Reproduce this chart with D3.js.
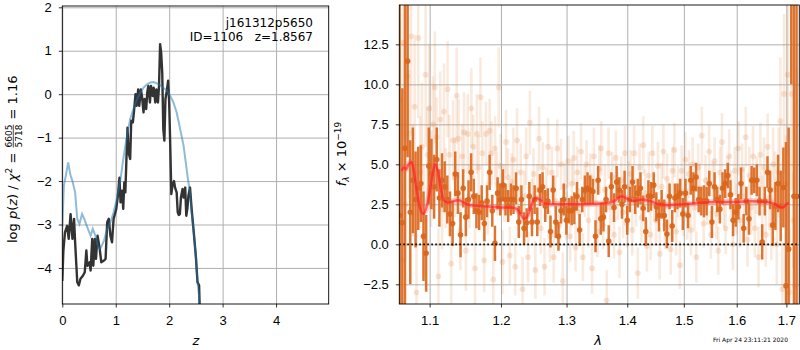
<!DOCTYPE html>
<html>
<head>
<meta charset="utf-8">
<script src="https://d3js.org/d3.v7.min.js"></script>
<style>
  body { margin: 0; background: #fff; }
  svg { font-family: "DejaVu Sans", sans-serif; }
  .tick text { font-size: 13px; fill: #000; }
  .tick line { stroke: #000; stroke-width: 0.8; }
  .domain { display: none; }
  .grid .tick line { stroke: #b0b0b0; stroke-width: 1; }
  .grid .tick text { display: none; }
</style>
</head>
<body>
<svg id="chart" width="800" height="350"></svg>
<script>
// ---- left panel: redshift probability ----
const pzZ = [0, 0.02, 0.05, 0.09, 0.12, 0.155, 0.19, 0.22, 0.24, 0.26, 0.28, 0.31, 0.34, 0.385, 0.42, 0.45, 0.47, 0.51, 0.53, 0.56,
  0.58, 0.61, 0.63, 0.66, 0.70, 0.73, 0.78, 0.81, 0.84, 0.87, 0.90, 0.93, 0.96, 1.01, 1.04, 1.07, 1.09, 1.12, 1.14, 1.16,
  1.18, 1.20, 1.22, 1.24, 1.27, 1.29, 1.32, 1.34, 1.37, 1.39, 1.42, 1.44, 1.47, 1.49, 1.52, 1.54, 1.57, 1.59, 1.61, 1.64,
  1.66, 1.69, 1.71, 1.74, 1.76, 1.79, 1.81, 1.83, 1.85, 1.87, 1.89, 1.91, 1.93, 1.94, 1.96, 1.98, 2.00, 2.02, 2.04, 2.06,
  2.09, 2.11, 2.14, 2.16, 2.18, 2.20, 2.22, 2.25, 2.27, 2.30, 2.32, 2.34, 2.36, 2.39, 2.42, 2.46, 2.50, 2.53, 2.56, 2.57, 2.60];
const pzLog = [-4.3, -3.6, -3.18, -3.03, -3.33, -2.76, -3.33, -2.87, -3.41, -3.87, -4.33, -4.4, -4.25, -4.18, -4.1, -3.6, -3.95, -3.87, -4.06, -3.33,
  -3.95, -3.33, -3.79, -3.26, -3.56, -3.87, -3.83, -3.79, -2.95, -2.87, -3.26, -3.41, -2.87, -2.64, -2.34, -1.92, -2.49, -2.22, -2.64, -2.03,
  -2.26, -1.49, -0.77, -1.34, -1.49, -0.61, -0.65, -0.42, 0.0, -0.27, 0.11, -0.27, 0.11, -0.04, -0.42, -0.11, -0.34, 0.04, 0.19, -0.19,
  0.19, -0.04, 0.15, -0.19, 0.11, -0.19, 0.19, 1.15, 0.96, 0.5, -0.8, -1.07, -0.11, -0.04, 0.11, 0.31, -0.19, -1.19, -2.3, -2.11,
  -2.0, -2.15, -2.26, -2.72, -2.78, -2.76, -2.38, -2.18, -2.38, -2.15, -2.8, -2.64, -2.34, -2.15, -2.64, -3.18, -3.75, -4.33, -4.4, -4.9, -5.5];

const priorZ = [0, 0.03, 0.07, 0.11, 0.15, 0.19, 0.24, 0.28, 0.32, 0.37, 0.41, 0.47, 0.53, 0.57, 0.62, 0.67, 0.71, 0.78, 0.84, 0.90,
  0.96, 1.02, 1.09, 1.15, 1.21, 1.27, 1.34, 1.40, 1.46, 1.52, 1.58, 1.65, 1.71, 1.77, 1.83, 1.89, 1.96, 2.02, 2.08, 2.14,
  2.20, 2.27, 2.31, 2.35, 2.39, 2.42, 2.46, 2.50, 2.53, 2.56, 2.59];
const priorLog = [-3.05, -2.1, -1.85, -1.57, -1.85, -2.0, -2.26, -2.87, -2.99, -2.76, -2.87, -3.07, -3.26, -3.10, -3.26, -3.52, -3.56, -3.37, -3.10, -2.95,
  -2.72, -2.41, -1.95, -1.42, -0.96, -0.57, -0.31, -0.11, 0.04, 0.15, 0.22, 0.27, 0.28, 0.25, 0.21, 0.15, 0.08, -0.04, -0.19, -0.42,
  -0.77, -1.19, -1.57, -1.95, -2.26, -2.72, -3.18, -3.75, -4.33, -4.65, -5.2];

const zTicks = [0, 1, 2, 3, 4];
const pTicks = [-4, -3, -2, -1, 0, 1, 2];

// ---- right panel: spectrum ----
const lamStart = 1.0605, lamEnd = 1.7213;   // wavelength grid end points (micron)
const specFlux = [
  1.8, 1.35, 6.0, 11.45, 2.0, 4.0, 2.8, 3.5, 3.8, 0.5, -0.56, 4.9, 4.4, 3.6, 5.3, 2.9, 4.0, 3.6, 2.8, 1.9,
  1.3, 4.4, 3.2, 0.6, 3.5, 1.7, 2.8, 4.5, 3.0, 2.1, 2.0, 2.6, 1.3, 2.7, 4.5, 2.1, 0.06, 3.2, 2.8, 3.7,
  2.8, 2.4, 2.8, 2.8, 3.5, 1.4, 2.8, 1.0, 1.35, 3.0, 1.4, 2.8,
  1.4, 3.4, 3.6, 2.4, 2.7, 0.8, 3.4, 1.4, 0.5, 2.1, 2.8, 1.5, 2.1, 2.1, 2.25, 3.0, 0.9, 2.8, 3.4, 3.5,
  3.4, 3.3, 0.5, 4.0, 1.6, 1.7, 2.8, 0.2, 3.6, 2.3, 3.9, 3.4, 2.5, 3.6, 1.5, 2.8, 3.9, 2.8, 3.2, 3.5,
  2.25, 0.8, 3.0, 3.0, 3.7, 2.35, 1.8,
  2.5, 1.8, 0.65, 3.0, 1.15, 2.9, 3.0, 3.2, 1.9, 3.2, 1.8, 4.0, 3.5, 4.2, 2.8, 2.7, 2.7, 2.7, 3.8, 1.4,
  3.6, 2.8, 2.2, 3.5, 3.8, 4.3, 3.1, 1.5, 2.0, 2.35, 3.8, 1.0, 2.7, 1.6, 4.0, 4.0, 4.0, 2.7, 0.15, 2.7,
  4.5, 3.4, 1.2, 2.4, 3.8, 2.4, 3.55, -2.6, -0.3, 20, 3, 3];
const specErr = [
  30, 8.4, 12, 6, 4.5, 3.3, 3.0, 2.6, 2.4, 2.8, 2.4, 2.4, 2.2, 2.0, 2.0, 1.8, 1.7, 1.6, 1.5, 1.4,
  1.4, 1.4, 1.3, 1.4, 1.2, 1.2, 1.2, 1.2, 1.1, 1.1, 1.1, 1.1, 1.1, 1.0, 1.1, 1.0, 1.1, 1.0, 1.0, 1.0,
  1.0, 1.0, 1.0, 0.9, 1.0, 1.0, 0.9, 1.0, 0.9, 0.9, 0.9, 0.9,
  0.9, 1.0, 0.9, 1.0, 0.8, 1.0, 0.9, 1.0, 0.9, 0.8, 1.0, 0.9, 0.8, 0.9, 1.0, 0.9, 1.0, 0.8, 0.9, 1.0,
  0.9, 0.8, 1.0, 0.9, 1.0, 0.9, 0.8, 1.0, 0.9, 0.9, 1.0, 0.8, 0.9, 1.0, 0.9, 0.8, 1.0, 0.9, 0.9, 1.0,
  0.8, 0.9, 1.0, 0.9, 0.8, 0.9, 1.0,
  0.9, 1.0, 0.9, 0.8, 1.0, 0.9, 0.8, 0.9, 1.0, 0.9, 0.8, 0.9, 1.0, 0.9, 0.8, 0.9, 1.0, 0.9, 0.8, 1.0,
  0.9, 0.8, 0.9, 1.0, 0.9, 0.8, 0.9, 1.0, 0.9, 0.8, 1.0, 0.9, 0.9, 1.0, 0.9, 0.8, 1.0, 0.9, 1.1, 0.9,
  1.0, 1.2, 1.3, 1.5, 1.8, 2.2, 2.5, 9, 7.6, 10, 30, 30];

const rawFlux = [
  9.0, -1.0, 12.6, 2.5, 10.5, 6.9, 13.0, 4.0, 8.6, -3.0, 12.9, 4.5, 6.1, 1.5, 10.6, 5.6, 8.5,
  4.1, 7.5, 9.8, 6.7, -2.0, 7.8, 2.2, 8.3, 3.5, 9.7, 5.6, -1.2, 6.5, 4.2, 9.3, 6.6, 0.9, 5.5, 7.0, -0.4,
  6.9, 3.0, 8.5, 6.1, -1.5, 6.9, 4.8, 9.2, 5.7, -1.0, 6.9, 2.6, 7.1, 5.7, -2.2, 6.0, 3.8, 9.8, 4.9,
  -1.1, 3.2, 6.4, 4.2, -0.7, 3.9, 5.3, -1.4, 6.5, 2.0, 4.5, -2.8, 3.0, 5.5, -0.8, 7.6, 2.5, 4.4, -1.6, 3.4,
  6.6, 1.0, 4.8, -1.4, 3.2, 6.1, 0.5, 4.5, -0.8, 2.7, 6.0, 1.2, 5.0, -2.3, 3.6, 1.8, 5.2,
  0.5, 3.8, 5.4, -0.2, 4.5, 2.0, 5.8, -0.8, 3.3, 5.0, 1.5, 4.2, -1.5, 5.5, 2.6, 0.8, 4.7, 6.0, 1.2, 3.4,
  -3.5, 5.7, 2.3, 4.2, 0.6, 5.4, 3.0, -0.5, 4.0, 2.0, 5.7, 1.3, 3.6,
  4.4, 0.9, 5.7, 2.6, -1.8, 4.8, 1.7, 6.2, 3.2, -0.1, 4.3, 0.6, 5.7, 2.9, 1.5, 4.9, -0.6, 3.6, 5.8, 1.2,
  4.1, 2.4, -0.3, 4.6, 5.9, 0.8, 3.3, -1.3, 4.6, 2.0, 5.3,
  1.9, 4.4, 0.9, 5.0, 2.3, -0.8, 4.8, 3.5, 6.8, 1.3, 4.0, 2.7, 5.8, 0.6, 3.6, 5.2, 1.9, -0.4, 4.5, 6.4,
  2.6, 1.0, 4.0, 5.5, 3.1, 0.0, 4.6, 2.2, 6.0,
  1.5, 4.7, 3.0, 6.7, 0.3, 4.3, 2.3, 5.5, 1.0, 3.7, -0.8, 5.6, 2.5, 4.8, 0.6, 6.1, 2.9, 1.2, 5.0, 3.4, 0.0, 4.5,
  7.7, -2.8, 9.4, 3.8, 10.6, -3.0, 9.4, 1.5, -2.6, 3.0];
const rawErr = [
  5, 4, 6, 3.5, 5, 4, 6, 3.5, 4.5, 4, 5, 3.5, 4, 3.5, 4.5, 3, 4,
  3, 3, 3.5, 2.5, 3, 3, 2.5, 3, 2.5, 3, 2.5, 2.5, 2.5, 2.5, 3, 2.5, 2.5, 2, 2.5, 2.5,
  2.5, 2, 2.5, 2, 2.5, 2.5, 2, 2.5, 2, 2, 2, 2, 2, 2, 2, 2, 2, 2.5, 2,
  2, 1.8, 2, 1.8, 1.8, 1.8, 2, 1.8, 2, 1.6, 1.8, 2, 1.6, 1.8, 1.6, 2, 1.6, 1.6, 1.8, 1.6,
  2, 1.6, 1.6, 1.8, 1.6, 1.8, 1.6, 1.6, 1.6, 1.6, 1.8, 1.5, 1.6, 1.8, 1.5, 1.5, 1.6,
  1.6, 1.5, 1.7, 1.5, 1.6, 1.5, 1.8, 1.5, 1.6, 1.5, 1.7, 1.5, 1.6, 1.8, 1.5, 1.6, 1.5, 1.7, 1.5, 1.6,
  1.9, 1.6, 1.5, 1.6, 1.5, 1.7, 1.5, 1.6, 1.5, 1.6, 1.7, 1.5, 1.6,
  1.5, 1.6, 1.7, 1.5, 1.6, 1.5, 1.6, 1.8, 1.5, 1.6, 1.5, 1.6, 1.7, 1.5, 1.6, 1.5, 1.6, 1.5, 1.7, 1.5,
  1.6, 1.5, 1.6, 1.5, 1.7, 1.5, 1.6, 1.5, 1.6, 1.5, 1.7,
  1.6, 1.5, 1.6, 1.7, 1.5, 1.6, 1.5, 1.6, 1.8, 1.5, 1.6, 1.5, 1.7, 1.5, 1.6, 1.5, 1.6, 1.5, 1.6, 1.8,
  1.5, 1.6, 1.5, 1.7, 1.5, 1.6, 1.5, 1.6, 1.7,
  1.7, 1.6, 1.8, 1.9, 1.7, 1.8, 1.7, 1.9, 1.8, 1.8, 1.9, 2.0, 1.8, 1.9, 2.0, 2.1, 2.0, 2.2, 2.3, 2.4, 2.5, 2.8,
  4, 3, 5, 3, 5, 4, 6, 3, 4, 8];

const modelLam = [1.063, 1.066, 1.069, 1.072, 1.076, 1.079, 1.083, 1.087, 1.091, 1.095, 1.099, 1.103, 1.107, 1.111, 1.115, 1.119,
  1.125, 1.132, 1.140, 1.147, 1.155, 1.170, 1.185, 1.200, 1.215, 1.224, 1.229, 1.234, 1.240, 1.246, 1.252, 1.258, 1.266,
  1.280, 1.300, 1.330, 1.355, 1.375, 1.390, 1.400, 1.410, 1.425, 1.440, 1.455, 1.470, 1.500, 1.530, 1.560, 1.600,
  1.630, 1.660, 1.675, 1.685, 1.693, 1.700, 1.705];
const modelFlux = [4.6, 4.8, 4.7, 5.0, 5.15, 4.6, 3.3, 2.3, 1.9, 2.2, 3.0, 4.1, 5.0, 4.6, 3.5, 2.75,
  2.6, 2.7, 2.75, 2.6, 2.45, 2.4, 2.35, 2.3, 2.3, 2.2, 1.9, 1.6, 1.8, 2.5, 2.9, 2.8, 2.55,
  2.5, 2.5, 2.5, 2.55, 2.65, 3.0, 2.85, 2.7, 2.8, 2.7, 2.5, 2.45, 2.5, 2.6, 2.65, 2.65,
  2.7, 2.65, 2.55, 2.35, 2.3, 2.5, 2.6];

const lamTicks = [1.1, 1.2, 1.3, 1.4, 1.5, 1.6, 1.7];
const fluxTicks = [-2.5, 0, 2.5, 5, 7.5, 10, 12.5];

const svg = d3.select('#chart');

// log-spaced wavelength grids
const logGrid = n => d3.range(n).map(i => lamStart * Math.pow(lamEnd / lamStart, i / (n - 1)));
const specLam = logGrid(specFlux.length);
const rawLam = logGrid(rawFlux.length).map(l => l * 1.0004);

// ---------- left panel ----------
const L = { x0: 62.3, x1: 328.7, y0: 6, y1: 304 };
const xz = d3.scaleLinear().domain([0, 4.985]).range([L.x0, L.x1]);
const yp = d3.scaleLinear().domain([-4.83, 2.03]).range([L.y1, L.y0]);

svg.append('clipPath').attr('id', 'clipL').append('rect')
  .attr('x', L.x0).attr('y', L.y0).attr('width', L.x1 - L.x0).attr('height', L.y1 - L.y0);
svg.append('clipPath').attr('id', 'clipR');

const gl = svg.append('g');
gl.append('g').attr('class', 'grid').attr('transform', `translate(0,${L.y1})`)
  .call(d3.axisBottom(xz).tickValues(zTicks).tickSize(-(L.y1 - L.y0)));
gl.append('g').attr('class', 'grid').attr('transform', `translate(${L.x0},0)`)
  .call(d3.axisLeft(yp).tickValues(pTicks).tickSize(-(L.x1 - L.x0)));

const lineL = (xs, ys) => d3.line().x((d, i) => xz(xs[i])).y((d, i) => yp(ys[i]))(xs);
gl.append('path').attr('d', lineL(pzZ, pzLog)).attr('clip-path', 'url(#clipL)')
  .attr('fill', 'none').attr('stroke', '#333').attr('stroke-width', 2.4).attr('stroke-linejoin', 'round');
gl.append('path').attr('d', lineL(priorZ, priorLog)).attr('clip-path', 'url(#clipL)')
  .attr('fill', 'none').attr('stroke', '#1f77b4').attr('stroke-opacity', 0.5).attr('stroke-width', 2);

gl.append('g').attr('transform', `translate(0,${L.y1})`)
  .call(d3.axisBottom(xz).tickValues(zTicks).tickFormat(d3.format('d')).tickSize(3.5).tickPadding(8.2));
gl.append('g').attr('transform', `translate(${L.x0},0)`)
  .call(d3.axisLeft(yp).tickValues(pTicks).tickFormat(d3.format('d')).tickSize(3.5).tickPadding(7));
gl.append('rect').attr('x', L.x0).attr('y', L.y0).attr('width', L.x1 - L.x0).attr('height', L.y1 - L.y0)
  .attr('fill', 'none').attr('stroke', '#000').attr('stroke-width', 0.9);

gl.append('text').attr('x', 313).attr('y', 27).attr('text-anchor', 'end')
  .style('font-size', '12px').text('j161312p5650');
gl.append('text').attr('x', 313).attr('y', 41).attr('text-anchor', 'end')
  .style('font-size', '12px').text('ID=1106\u00a0\u00a0\u00a0z=1.8567');

gl.append('text').attr('x', xz(2.5)).attr('y', 345).attr('text-anchor', 'middle')
  .style('font-size', '13px').style('font-style', 'italic').text('z');

// y label with fraction
const ylab = svg.append('g').attr('transform', 'translate(17.3,243) rotate(-90)');
let cur = 0;
const put = (txt, o = {}) => {
  const t = ylab.append('text').attr('x', cur).attr('y', o.y || 0)
    .style('font-size', (o.size || 13) + 'px').style('font-style', o.it ? 'italic' : 'normal')
    .text(txt.replace(/ /g, '\u00a0'));
  cur += t.node().getComputedTextLength();
  return t;
};
put('log '); put('p', { it: true }); put('('); put('z', { it: true }); put(') / ');
put('χ', { it: true }); put('2', { size: 9, y: -5.5 }); put(' = ');
const fStart = cur + 1;
const num = ylab.append('text').text('6605').style('font-size', '9px').attr('y', -5.8);
const den = ylab.append('text').text('5718').style('font-size', '9px').attr('y', 4.2);
const fw = Math.max(num.node().getComputedTextLength(), den.node().getComputedTextLength());
num.attr('x', fStart + fw / 2).attr('text-anchor', 'middle');
den.attr('x', fStart + fw / 2).attr('text-anchor', 'middle');
ylab.append('line').attr('x1', fStart).attr('x2', fStart + fw).attr('y1', -4).attr('y2', -4)
  .attr('stroke', '#000').attr('stroke-width', 0.7);
cur = fStart + fw + 1;
put(' = 1.16');

// ---------- right panel ----------
const R = { x0: 399.3, x1: 799.3, y0: 5, y1: 304 };
const xl = d3.scaleLog().domain([1.06, 1.727]).range([R.x0, R.x1]);
const yf = d3.scaleLinear().domain([-3.73, 14.96]).range([R.y1, R.y0]);
svg.select('#clipR').append('rect')
  .attr('x', R.x0).attr('y', R.y0).attr('width', R.x1 - R.x0).attr('height', R.y1 - R.y0);

const gr = svg.append('g');
gr.append('g').attr('class', 'grid').attr('transform', `translate(0,${R.y1})`)
  .call(d3.axisBottom(xl).tickValues(lamTicks).tickSize(-(R.y1 - R.y0)));
gr.append('g').attr('class', 'grid').attr('transform', `translate(${R.x0},0)`)
  .call(d3.axisLeft(yf).tickValues(fluxTicks).tickSize(-(R.x1 - R.x0)));

const orange = '#e0701f';
const plot = gr.append('g').attr('clip-path', 'url(#clipR)');

// faint unbinned points
const raw = plot.append('g');
raw.selectAll('line').data(rawFlux).join('line')
  .attr('x1', (d, i) => xl(rawLam[i])).attr('x2', (d, i) => xl(rawLam[i]))
  .attr('y1', (d, i) => yf(d - rawErr[i])).attr('y2', (d, i) => yf(d + rawErr[i]))
  .attr('stroke', orange).attr('stroke-opacity', 0.15).attr('stroke-width', 2.6);
raw.selectAll('circle').data(rawFlux).join('circle')
  .attr('cx', (d, i) => xl(rawLam[i])).attr('cy', d => yf(d)).attr('r', 2.9)
  .attr('fill', orange).attr('fill-opacity', 0.18);

// binned spectrum
const spec = plot.append('g');
spec.selectAll('line').data(specFlux).join('line')
  .attr('x1', (d, i) => xl(specLam[i])).attr('x2', (d, i) => xl(specLam[i]))
  .attr('y1', (d, i) => yf(d - specErr[i])).attr('y2', (d, i) => yf(d + specErr[i]))
  .attr('stroke', '#d9661b').attr('stroke-opacity', 0.9).attr('stroke-width', 2.5);
spec.selectAll('circle').data(specFlux).join('circle')
  .attr('cx', (d, i) => xl(specLam[i])).attr('cy', d => yf(d)).attr('r', 2.8)
  .attr('fill', '#d9661b').attr('fill-opacity', 0.92);

// zero line
plot.append('line').attr('x1', R.x0).attr('x2', R.x1).attr('y1', yf(0)).attr('y2', yf(0))
  .attr('stroke', '#000').attr('stroke-width', 1.6).attr('stroke-dasharray', '1.6,2.4');

// model
const modelLine = d3.line().x((d, i) => xl(modelLam[i])).y(d => yf(d)).curve(d3.curveMonotoneX)(modelFlux);
plot.append('path').attr('d', modelLine).attr('fill', 'none')
  .attr('stroke', '#ff6060').attr('stroke-opacity', 0.3).attr('stroke-width', 6);
plot.append('path').attr('d', modelLine).attr('fill', 'none')
  .attr('stroke', '#ff1a1a').attr('stroke-opacity', 0.6).attr('stroke-width', 2.5);

gr.append('g').attr('transform', `translate(0,${R.y1})`)
  .call(d3.axisBottom(xl).tickValues(lamTicks).tickFormat(d3.format('.1f')).tickSize(3.5).tickPadding(8.2));
gr.append('g').attr('transform', `translate(${R.x0},0)`)
  .call(d3.axisLeft(yf).tickValues(fluxTicks).tickFormat(d3.format('.1f')).tickSize(3.5).tickPadding(7));
gr.append('rect').attr('x', R.x0).attr('y', R.y0).attr('width', R.x1 - R.x0).attr('height', R.y1 - R.y0)
  .attr('fill', 'none').attr('stroke', '#000').attr('stroke-width', 0.9);

gr.append('text').attr('x', 598).attr('y', 345).attr('text-anchor', 'middle')
  .style('font-size', '13px').style('font-style', 'italic').text('λ');

const fl = gr.append('text').attr('transform', 'translate(345.5,154) rotate(-90)')
  .attr('text-anchor', 'middle').style('font-size', '13px');
fl.append('tspan').style('font-style', 'italic').text('f');
fl.append('tspan').style('font-size', '9px').style('font-style', 'italic').attr('dy', 3).text('λ');
fl.append('tspan').attr('dy', -3).text('\u00a0×\u00a010');
fl.append('tspan').style('font-size', '9px').attr('dy', -5).text('−19');

svg.append('text').attr('x', 788).attr('y', 342).attr('text-anchor', 'end')
  .style('font-size', '6px').text('Fri Apr 24 23:11:21 2020');
</script>
</body>
</html>
